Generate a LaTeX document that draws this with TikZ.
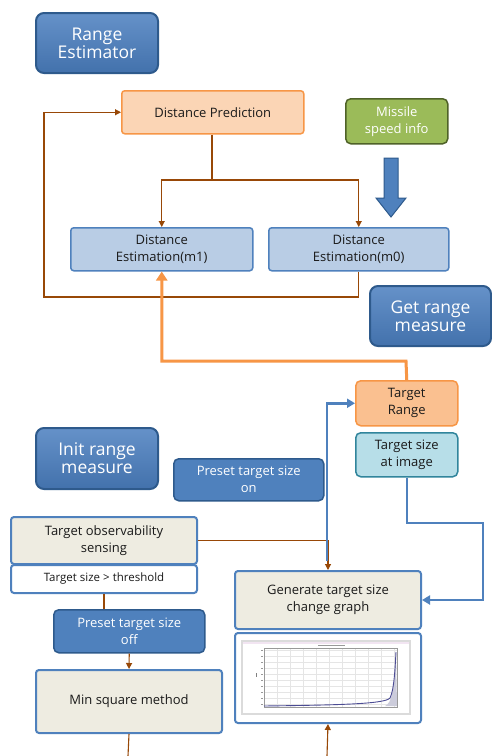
\documentclass[tikz,border=0pt]{standalone}
\usepackage{fontspec}
\setmainfont{Open Sans}
\usetikzlibrary{arrows.meta,calc}
\definecolor{lblfill}{HTML}{4A7EBF}
\definecolor{lbldraw}{HTML}{2E5A8C}
\definecolor{bluefill}{HTML}{4F81BD}
\definecolor{blueline}{HTML}{4F81BD}
\definecolor{orfill}{HTML}{FBD5B5}
\definecolor{ordraw}{HTML}{F79646}
\definecolor{trfill}{HTML}{FAC090}
\definecolor{grfill}{HTML}{9BBB59}
\definecolor{grdraw}{HTML}{4F6228}
\definecolor{ltblue}{HTML}{B9CDE5}
\definecolor{cyfill}{HTML}{B7DEE8}
\definecolor{cydraw}{HTML}{31859C}
\definecolor{beige}{HTML}{EEECE1}
\definecolor{brn}{HTML}{984807}
\definecolor{txt}{HTML}{1A1A1A}
\tikzset{
  base/.style={anchor=north west, align=center, inner sep=1pt, text=txt},
  lbl/.style={base, rounded corners=8pt, top color=lblfill!85!white, bottom color=lblfill!90!black, draw=lbldraw, line width=2pt, text=white, font=\fontsize{17.5}{20}\selectfont},
  bluebox/.style={base, rounded corners=5pt, fill=bluefill, draw=lbldraw, line width=1.5pt, text=white, font=\fontsize{13}{17}\selectfont},
  orbox/.style={base, rounded corners=3pt, fill=orfill, draw=ordraw, line width=1.5pt, font=\fontsize{13}{17}\selectfont},
  trbox/.style={base, rounded corners=5pt, fill=trfill, draw=ordraw, line width=1.5pt, font=\fontsize{13}{17}\selectfont},
  gnbox/.style={base, rounded corners=5pt, fill=grfill, draw=grdraw, line width=1.5pt, text=white, font=\fontsize{13}{17}\selectfont},
  lbbox/.style={base, rounded corners=3pt, fill=ltblue, draw=blueline, line width=1.5pt, font=\fontsize{13}{17}\selectfont},
  cybox/.style={base, rounded corners=5pt, fill=cyfill, draw=cydraw, line width=1.5pt, font=\fontsize{13}{17}\selectfont},
  bgbox/.style={base, rounded corners=3pt, fill=beige, draw=blueline, line width=2pt, font=\fontsize{13}{17}\selectfont},
  wtbox/.style={base, rounded corners=3pt, fill=white, draw=blueline, line width=2pt, font=\fontsize{11.5}{14}\selectfont},
  brnline/.style={draw=brn, line width=1.1pt},
  brnarr/.style={brnline, -{Triangle[length=6pt,width=6pt]}},
  orarr/.style={draw=ordraw, line width=3pt, -{Triangle[length=9pt,width=11pt]}},
  bluarr/.style={draw=blueline, line width=2.5pt, -{Triangle[length=8pt,width=9pt]}},
}
\begin{document}
\begin{tikzpicture}[x=1pt,y=-1pt]
\useasboundingbox (0,0) rectangle (491,756);
\fill[white] (0,0) rectangle (491,756);

% nodes
\node[lbl, minimum width=122pt, minimum height=60pt] (re) at (35,12) {Range\\[-2pt]Estimator};
\node[orbox, minimum width=182pt, minimum height=43pt] (dp) at (121,90) {Distance Prediction};
\node[gnbox, minimum width=102pt, minimum height=45pt] (ms) at (345,98) {Missile\\speed info};
\node[lbbox, minimum width=182pt, minimum height=43pt] (m1) at (70,227) {Distance\\Estimation(m1)};
\node[lbbox, minimum width=180pt, minimum height=43pt] (m0) at (268,227) {Distance\\Estimation(m0)};
\node[lbl, minimum width=121pt, minimum height=60pt] (grm) at (369,285) {Get range\\[-2pt]measure};
\node[trbox, minimum width=102pt, minimum height=45pt] (tr) at (355,380) {Target\\Range};
\node[cybox, minimum width=102pt, minimum height=44pt] (tsi) at (355,432) {Target size\\at image};
\node[lbl, minimum width=122pt, minimum height=61pt] (irm) at (35,427) {Init range\\[-2pt]measure};
\node[bluebox, minimum width=150pt, minimum height=42pt] (pon) at (173,458) {Preset target size\\on};
\node[bgbox, minimum width=186pt, minimum height=47pt] (tos) at (10,516) {Target observability\\sensing};
\node[wtbox, minimum width=186pt, minimum height=28pt] (tst) at (10,564) {Target size > threshold};
\node[bgbox, minimum width=186pt, minimum height=58pt] (gen) at (234,570) {Generate target size\\change graph};
\node[wtbox, minimum width=186pt, minimum height=90pt] (gr) at (234,632) {};
\node[bluebox, minimum width=151pt, minimum height=43pt] (poff) at (53,609) {Preset target size\\off};
\node[bgbox, minimum width=186pt, minimum height=63pt] (msm) at (35,669) {Min square method};

% big blue arrow
\draw[fill=bluefill, draw=lbldraw, line width=1pt]
  (384,158) -- (398,158) -- (398,198) -- (406,198) -- (391,217) -- (376,198) -- (384,198) -- cycle;

% plot inside graph box
\begin{scope}
  \fill[black!14] (241,640) rectangle (411,715);
  \fill[white] (243,642) rectangle (409,713);
  \fill[violet!10] (243,642) rectangle (409,644);
  \foreach \gx in {264,277,...,397} \draw[black!10, line width=0.4pt] (\gx,648) -- (\gx,707);
  \foreach \gy in {650,656,...,706} \draw[black!10, line width=0.4pt] (264,\gy) -- (397,\gy);
  \draw[black!40, line width=0.5pt] (264,648) rectangle (397,707);
  \draw[black!40, line width=0.3pt] (318,645) -- (345,645);
  \foreach \gy in {650,656,...,706} \draw[black!40, line width=0.3pt] (261,\gy) -- (263,\gy);
  \draw[black!50, line width=0.4pt] (256,673) -- (256,677);
  \fill[blue!30!black!20] (385,706) .. controls (392,703) and (394,690) .. (396,652) -- (397,706) -- cycle;
  \draw[blue!40!black!70, line width=0.9pt] (264,706) .. controls (340,705) and (385,704) .. (390,698) .. controls (394,690) and (395,670) .. (396,652);
\end{scope}

% connectors
\coordinate (j1) at (212,180);
\draw[brnline] (dp.south -| j1) -- (j1);
\draw[brnarr] (j1) -| (m1.north);
\draw[brnarr] (j1) -| (m0.north);
\coordinate (fb) at (44,297);
\draw[brnarr] (m0.south) |- (fb) |- (dp.west);

\coordinate (oj) at (406,361);
\draw[orarr] (tr.north) -- (oj) -| (m1.south);

\draw[brnarr] (tos.east) -| (gen.north);
\coordinate (bj) at (327,561);
\draw[bluarr] (bj) |- (tr.west);

\coordinate (c1) at (483,523);
\draw[bluarr] (tsi.south) |- (c1) |- (gen.east);

\draw[brnline] (tst.south) -- (tst.south |- poff.north);
\draw[brnarr] (poff.south) -- (msm.north);
\coordinate (b1) at (128,756);
\coordinate (b2) at (327,756);
\draw[brnline] (msm.south) -- (b1);
\draw[brnarr] (b2) -- (gr.south);
\end{tikzpicture}
\end{document}
